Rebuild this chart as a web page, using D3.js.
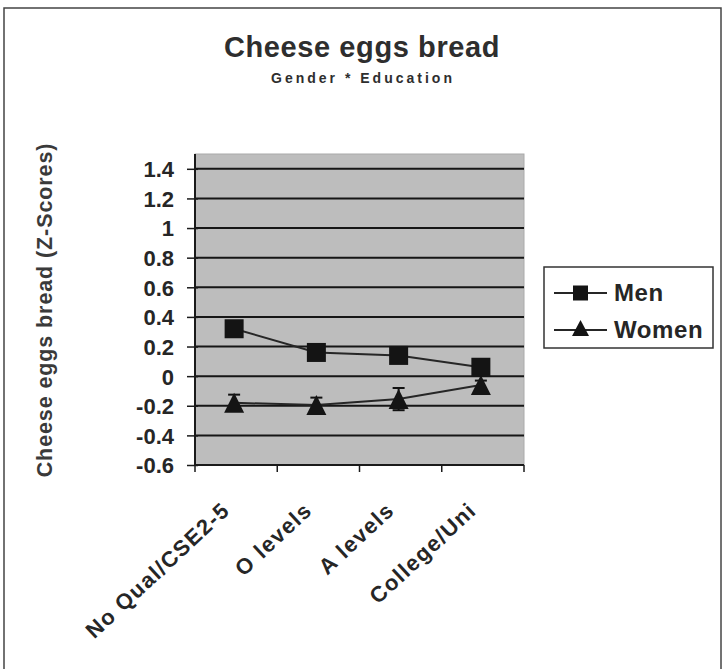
<!DOCTYPE html>
<html>
<head>
<meta charset="utf-8">
<script src="https://cdn.jsdelivr.net/npm/d3@7/dist/d3.min.js"></script>
<style>
  html, body { margin: 0; padding: 0; background: #ffffff; }
  svg { display: block; }
  text { font-family: "Liberation Sans", Arial, Helvetica, sans-serif; font-weight: bold; }
</style>
</head>
<body>
<svg id="chart" width="723" height="669"></svg>
<script>
// ---- data ----
const categories = ["No Qual/CSE2-5", "O levels", "A levels", "College/Uni"];
const menValues = [0.32, 0.16, 0.14, 0.06];
const menErrors = [0.04, 0.04, 0.05, 0.04];
const womenValues = [-0.18, -0.195, -0.155, -0.06];
const womenErrors = [0.055, 0.05, 0.075, 0.03];
const yTicks = [-0.6, -0.4, -0.2, 0, 0.2, 0.4, 0.6, 0.8, 1, 1.2, 1.4];
const seriesNames = ["Men", "Women"];
const titleText = "Cheese eggs bread";
const subtitleText = "Gender * Education";
const yAxisTitle = "Cheese eggs bread (Z-Scores)";

// ---- layout ----
const svg = d3.select("#chart");
const plot = { left: 195, right: 524, top: 154, bottom: 465 };

// outer frame
svg.append("rect")
  .attr("x", 4).attr("y", 8).attr("width", 717).attr("height", 700)
  .attr("fill", "none").attr("stroke", "#444").attr("stroke-width", 1.5);

const x = d3.scaleBand().domain(categories).range([plot.left, plot.right]);
const y = d3.scaleLinear().domain([-0.6, 1.5]).range([plot.bottom, plot.top]);

// plot background
svg.append("rect")
  .attr("x", plot.left).attr("y", plot.top)
  .attr("width", plot.right - plot.left).attr("height", plot.bottom - plot.top)
  .attr("fill", "#bdbdbd").attr("stroke", "#aaaaaa").attr("stroke-width", 1);

// gridlines
svg.append("g").selectAll("line")
  .data(yTicks.filter(d => d > -0.6))
  .join("line")
  .attr("x1", plot.left).attr("x2", plot.right)
  .attr("y1", d => y(d)).attr("y2", d => y(d))
  .attr("stroke", "#161616").attr("stroke-width", 2);

// y axis
const yAxis = d3.axisLeft(y)
  .tickValues(yTicks)
  .tickSize(8)
  .tickSizeOuter(0)
  .tickPadding(13)
  .tickFormat(d => String(Math.round(d * 10) / 10));
const gy = svg.append("g")
  .attr("transform", `translate(${plot.left},0)`)
  .call(yAxis);
gy.select(".domain").attr("stroke", "#1a1a1a").attr("stroke-width", 2)
  .attr("d", `M0,${plot.bottom}V${plot.top}`);
gy.selectAll(".tick line").attr("stroke", "#1a1a1a").attr("stroke-width", 1.5).attr("x2", -8).attr("x1", 3);
gy.selectAll(".tick text")
  .attr("font-size", 22).attr("font-weight", "bold")
  .attr("fill", "#262626")
  .attr("font-family", "'Liberation Sans', Arial, sans-serif")
  .attr("dy", "0.36em");

// x axis
const bounds = categories.map(c => x(c)).concat([plot.right]);
svg.append("line")
  .attr("x1", plot.left).attr("x2", plot.right)
  .attr("y1", plot.bottom).attr("y2", plot.bottom)
  .attr("stroke", "#1a1a1a").attr("stroke-width", 2);
svg.append("g").selectAll("line")
  .data(bounds)
  .join("line")
  .attr("x1", d => d).attr("x2", d => d)
  .attr("y1", plot.bottom).attr("y2", plot.bottom + 7)
  .attr("stroke", "#1a1a1a").attr("stroke-width", 1.5);

svg.append("g").selectAll("text")
  .data(categories)
  .join("text")
  .attr("transform", d => `translate(${x(d) + x.bandwidth() / 2 - 5},${plot.bottom + 47}) rotate(-43)`)
  .attr("text-anchor", "end")
  .attr("font-size", 22)
  .attr("letter-spacing", 1.4)
  .attr("fill", "#262626")
  .text(d => d);

// line generator
const cx = d => x(d) + x.bandwidth() / 2 - 2;
const line = d3.line().x(d => cx(d.cat)).y(d => y(d.v));

function seriesData(vals, errs) {
  return categories.map((c, i) => ({ cat: c, v: vals[i], e: errs[i] }));
}
const men = seriesData(menValues, menErrors);
const women = seriesData(womenValues, womenErrors);

// error bars
function drawErrors(data) {
  const g = svg.append("g").attr("stroke", "#111").attr("stroke-width", 2);
  g.selectAll("line.v").data(data).join("line").attr("class", "v")
    .attr("x1", d => cx(d.cat)).attr("x2", d => cx(d.cat))
    .attr("y1", d => y(d.v - d.e)).attr("y2", d => y(d.v + d.e));
  g.selectAll("line.t").data(data).join("line").attr("class", "t")
    .attr("x1", d => cx(d.cat) - 6).attr("x2", d => cx(d.cat) + 6)
    .attr("y1", d => y(d.v + d.e)).attr("y2", d => y(d.v + d.e));
  g.selectAll("line.b").data(data).join("line").attr("class", "b")
    .attr("x1", d => cx(d.cat) - 6).attr("x2", d => cx(d.cat) + 6)
    .attr("y1", d => y(d.v - d.e)).attr("y2", d => y(d.v - d.e));
}
drawErrors(women);
drawErrors(men);

svg.append("path").datum(men).attr("d", line)
  .attr("fill", "none").attr("stroke", "#262626").attr("stroke-width", 2);
svg.append("path").datum(women).attr("d", line)
  .attr("fill", "none").attr("stroke", "#262626").attr("stroke-width", 2);

const sqSize = 19;
svg.append("g").selectAll("rect").data(men).join("rect")
  .attr("x", d => cx(d.cat) - sqSize / 2).attr("y", d => y(d.v) - sqSize / 2)
  .attr("width", sqSize).attr("height", sqSize)
  .attr("fill", "#141414");

const triW = 20, triH = 20;
const triPath = (px, py, w, h) => `M${px},${py - h / 2}L${px + w / 2},${py + h / 2}L${px - w / 2},${py + h / 2}Z`;
svg.append("g").selectAll("path").data(women).join("path")
  .attr("d", d => triPath(cx(d.cat), y(d.v), triW, triH))
  .attr("fill", "#141414");

// titles
svg.append("text")
  .attr("x", 362).attr("y", 57)
  .attr("text-anchor", "middle")
  .attr("font-size", 29).attr("letter-spacing", 0.6)
  .attr("fill", "#2e2e2e")
  .text(titleText);
svg.append("text")
  .attr("x", 363).attr("y", 83)
  .attr("text-anchor", "middle")
  .attr("font-size", 14).attr("letter-spacing", 3)
  .attr("fill", "#2e2e2e")
  .text(subtitleText);

svg.append("text")
  .attr("transform", `translate(52,310) rotate(-90)`)
  .attr("text-anchor", "middle")
  .attr("font-size", 21.5).attr("letter-spacing", 0.9)
  .attr("fill", "#3a3a3a")
  .text(yAxisTitle);

// legend
const lg = svg.append("g");
lg.append("rect")
  .attr("x", 544).attr("y", 267).attr("width", 169).attr("height", 81)
  .attr("fill", "#ffffff").attr("stroke", "#333").attr("stroke-width", 1.5);
const legendY = [293, 330];
seriesNames.forEach((name, i) => {
  const ly = legendY[i];
  lg.append("line").attr("x1", 554).attr("x2", 607).attr("y1", ly).attr("y2", ly)
    .attr("stroke", "#262626").attr("stroke-width", 2);
  if (i === 0) {
    lg.append("rect").attr("x", 580.5 - 7.5).attr("y", ly - 7.5)
      .attr("width", 15).attr("height", 15).attr("fill", "#141414");
  } else {
    lg.append("path").attr("d", triPath(580.5, ly - 2, 17, 16)).attr("fill", "#141414");
  }
  lg.append("text").attr("x", 614).attr("y", ly + 8)
    .attr("font-size", 24).attr("letter-spacing", 0.6)
    .attr("fill", "#262626")
    .text(name);
});
</script>
</body>
</html>
